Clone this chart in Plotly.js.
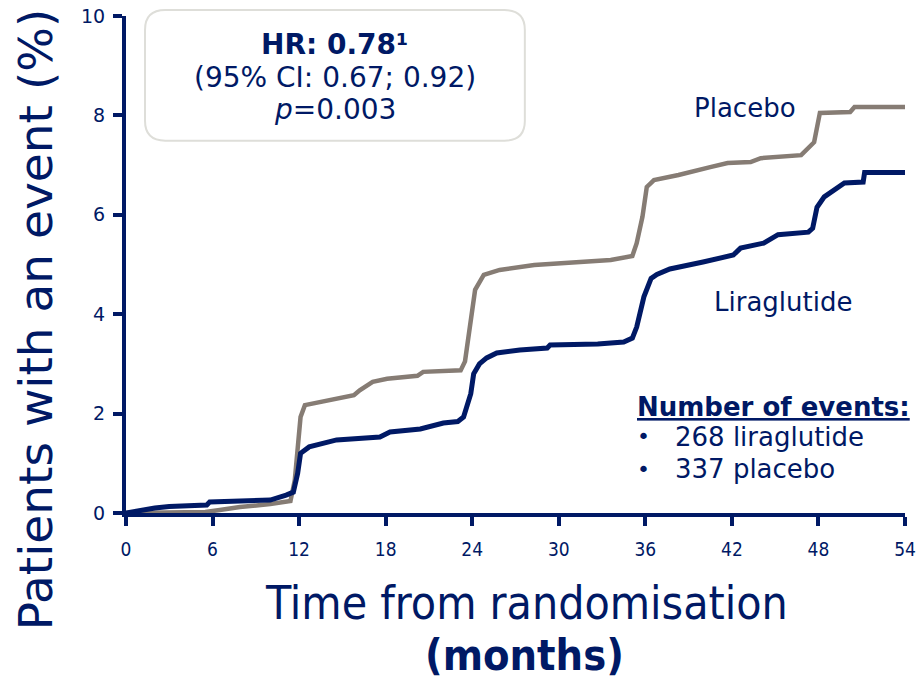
<!DOCTYPE html>
<html>
<head>
<meta charset="utf-8">
<script src="https://cdn.plot.ly/plotly-3.0.1.min.js"></script>
<style>
  html, body { margin: 0; padding: 0; background: #ffffff; }
  #chart { width: 918px; height: 681px; }
</style>
</head>
<body>
<div id="chart"></div>
<script>
// Cumulative incidence (%) by month since randomisation
const liraMonths = [0, 1, 2, 3, 4, 5.6, 5.8, 7.2, 10, 11.1, 11.6, 11.9, 12.1, 12.7, 14.6, 17.6, 18.3, 20.4, 22, 23, 23.4, 23.9, 24.1, 24.5, 25, 25.7, 27.3, 29.2, 29.4, 32.7, 34.5, 35.1, 35.4, 35.9, 36.4, 36.8, 37.7, 40, 42.1, 42.6, 44.2, 45.2, 47.3, 47.6, 47.9, 48.4, 48.9, 49.3, 49.8, 51.1, 51.2, 54];
const liraPct    = [0, 0.06, 0.1, 0.13, 0.14, 0.16, 0.22, 0.24, 0.26, 0.36, 0.42, 0.8, 1.2, 1.33, 1.47, 1.53, 1.63, 1.69, 1.81, 1.84, 1.93, 2.4, 2.8, 3.0, 3.12, 3.22, 3.28, 3.32, 3.38, 3.4, 3.44, 3.52, 3.74, 4.35, 4.72, 4.8, 4.91, 5.05, 5.19, 5.33, 5.43, 5.6, 5.65, 5.73, 6.15, 6.36, 6.46, 6.56, 6.64, 6.66, 6.85, 6.85];

const placMonths = [0, 3, 5.5, 6.5, 7.9, 10, 11.4, 11.7, 12.1, 12.4, 13.4, 15.8, 16.2, 17.1, 18.1, 20.2, 20.6, 23.2, 23.5, 23.9, 24.2, 24.8, 25.9, 28.3, 31.7, 33.6, 35.1, 35.4, 35.8, 36.1, 36.6, 38.3, 40.5, 41.7, 43.3, 44, 46.8, 47.3, 47.7, 48.1, 50.2, 50.5, 54];
const placPct    = [0, 0.01, 0.02, 0.06, 0.12, 0.18, 0.24, 0.66, 1.93, 2.17, 2.23, 2.37, 2.47, 2.64, 2.7, 2.76, 2.84, 2.87, 3.05, 3.8, 4.49, 4.79, 4.89, 4.99, 5.05, 5.09, 5.17, 5.43, 5.96, 6.56, 6.7, 6.8, 6.96, 7.04, 7.06, 7.14, 7.2, 7.34, 7.46, 8.05, 8.07, 8.17, 8.17];

const xTicks = [0, 6, 12, 18, 24, 30, 36, 42, 48, 54];
const yTicks = [0, 2, 4, 6, 8, 10];

const seriesNames = ['Placebo', 'Liraglutide'];
const eventCounts = [337, 268];
const hrText = 'HR: 0.78¹';
const ciText = '(95% CI: 0.67; 0.92)';
const pText = '<i>p</i>=0.003';
const xTitle = 'Time from randomisation';
const xUnit = '(months)';
const yTitle = 'Patients with an event (%)';

const NAVY = '#001965';
const GREY = '#867c74';
const SANS = 'DejaVu Sans, Verdana, sans-serif';
const NARROW = 'DejaVu Sans Condensed, Liberation Sans Narrow, Arial Narrow, sans-serif';

const traces = [
  {
    x: placMonths, y: placPct, name: seriesNames[0], type: 'scatter', mode: 'lines',
    line: { color: GREY, width: 4.5, shape: 'linear' }, hoverinfo: 'x+y+name'
  },
  {
    x: liraMonths, y: liraPct, name: seriesNames[1], type: 'scatter', mode: 'lines',
    line: { color: NAVY, width: 5, shape: 'linear' }, hoverinfo: 'x+y+name'
  }
];

// rounded box behind the hazard-ratio text (paper coordinates)
const bx0 = 0.0244, bx1 = 0.512, by0 = 0.749, by1 = 1.012, rx = 0.026, ry = 0.04;
const boxPath = `M ${bx0 + rx},${by1} L ${bx1 - rx},${by1} Q ${bx1},${by1} ${bx1},${by1 - ry} ` +
  `L ${bx1},${by0 + ry} Q ${bx1},${by0} ${bx1 - rx},${by0} L ${bx0 + rx},${by0} ` +
  `Q ${bx0},${by0} ${bx0},${by0 + ry} L ${bx0},${by1 - ry} Q ${bx0},${by1} ${bx0 + rx},${by1} Z`;

function label(x, y, text, size, opts) {
  return Object.assign({
    xref: 'paper', yref: 'paper', x: x, y: y, text: text, showarrow: false,
    font: { family: SANS, size: size, color: NAVY }, xanchor: 'center', yanchor: 'middle'
  }, opts || {});
}

const layout = {
  width: 918, height: 681,
  margin: { l: 126, r: 13, t: 16, b: 168 },
  paper_bgcolor: '#ffffff', plot_bgcolor: '#ffffff',
  showlegend: false,
  font: { family: SANS, color: NAVY },
  xaxis: {
    range: [0, 54], tickvals: xTicks, ticktext: xTicks.map(String),
    showgrid: false, zeroline: false,
    showline: true, linecolor: NAVY, linewidth: 4,
    ticks: 'outside', ticklen: 9, tickwidth: 4, tickcolor: NAVY,
    ticklabelstandoff: 7,
    tickfont: { family: NARROW, size: 19, color: NAVY }
  },
  yaxis: {
    range: [0, 10], tickvals: yTicks, ticktext: yTicks.map(String),
    showgrid: false, zeroline: false,
    showline: true, linecolor: NAVY, linewidth: 4,
    ticks: 'outside', ticklen: 9, tickwidth: 4, tickcolor: NAVY,
    ticklabelstandoff: 4,
    tickfont: { family: SANS, size: 19, color: NAVY }
  },
  shapes: [
    {
      type: 'path', xref: 'paper', yref: 'paper', path: boxPath,
      line: { color: '#deded9', width: 2 }, fillcolor: '#ffffff', layer: 'below'
    }
  ],
  annotations: [
    label(0.268, 0.943, '<b>' + hrText + '</b>', 28),
    label(0.268, 0.876, ciText, 28),
    label(0.268, 0.811, pText, 28),

    label(0.794, 0.815, seriesNames[0], 26),
    label(0.843, 0.4245, seriesNames[1], 26),

    label(1.009, 0.213, '<b><u>Number of events:</u></b>', 26, { xanchor: 'right' }),
    label(0.654, 0.153, '•', 22, { xanchor: 'left' }),
    label(0.702, 0.153, eventCounts[1] + ' liraglutide', 26, { xanchor: 'left' }),
    label(0.654, 0.0885, '•', 22, { xanchor: 'left' }),
    label(0.702, 0.0885, eventCounts[0] + ' placebo', 26, { xanchor: 'left' }),

    label(0.5135, -0.1811, xTitle, 46, { font: { family: NARROW, size: 46, color: NAVY } }),
    label(0.511, -0.2857, '<b>' + xUnit + '</b>', 43, { font: { family: NARROW, size: 43, color: NAVY } }),

    label(-0.1168, 0.388, yTitle, 47, { textangle: -90 })
  ]
};

Plotly.newPlot('chart', traces, layout, { displayModeBar: false, staticPlot: true });
</script>
</body>
</html>
